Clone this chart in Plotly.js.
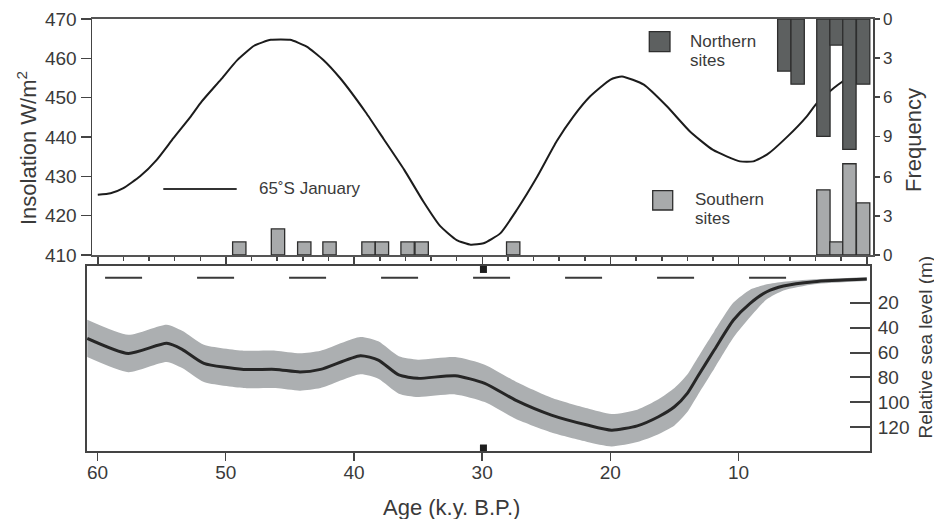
<!DOCTYPE html>
<html>
<head>
<meta charset="utf-8">
<script src="https://cdn.plot.ly/plotly-3.0.1.min.js"></script>
<style>html,body{margin:0;padding:0;background:#fff}#chart{width:934px;height:519px}</style>
</head>
<body>
<div id="chart"></div>
<script>
// ---- Data ----
// 65°S January insolation (W/m2) vs age (k.y. B.P.)
const insolAges = [60.0, 59.0, 58.0, 56.7, 55.4, 54.1, 52.8, 51.9, 50.4, 49.1, 47.8, 46.5, 45.0, 43.7, 42.4, 41.1, 39.1, 37.7, 36.1, 34.6, 33.3, 32.0, 30.9, 29.9, 28.6, 27.3, 25.7, 24.2, 22.9, 21.6, 20.0, 19.1, 17.4, 15.6, 13.8, 12.0, 9.9, 8.85, 7.8, 6.2, 4.7, 3.9, 2.6, 1.9, 0.5];
const insolValues = [425.3, 425.7, 427.0, 430.0, 434.2, 439.7, 445.0, 449.0, 454.6, 459.6, 463.2, 464.7, 464.7, 463.0, 459.6, 455.0, 446.3, 439.5, 431.7, 423.6, 417.4, 413.8, 412.6, 413.0, 415.5, 421.5, 430.0, 438.9, 445.2, 450.3, 454.6, 455.4, 453.3, 447.8, 441.4, 436.7, 433.8, 433.8, 435.5, 440.1, 445.2, 448.6, 452.4, 454.1, 457.5];

// Frequency of dated sites
const northAges = [6.44, 5.40, 3.39, 2.37, 1.36, 0.29];
const northFreq = [4, 5, 9, 2, 10, 5];
const southAges = [48.96, 45.94, 43.89, 41.92, 38.88, 37.83, 35.83, 34.73, 27.59, 3.39, 2.37, 1.36, 0.29];
const southFreq = [1, 2, 1, 1, 1, 1, 1, 1, 1, 5, 1, 7, 4];

// Relative sea level (m below present) and its uncertainty
const seaAges = [60.8, 57.6, 54.6, 53.4, 51.7, 48.6, 46.1, 44.2, 42.6, 39.5, 38.1, 36.5, 35.0, 32.1, 29.8, 27.4, 24.6, 21.8, 19.9, 17.9, 16.25, 15.0, 14.0, 13.2, 11.9, 10.4, 9.1, 7.8, 6.5, 4.1, 0.0];
const seaLevel = [48.6, 60.7, 52.6, 57.4, 68.7, 73.5, 73.5, 75.6, 73.5, 62.5, 66.0, 78.0, 80.7, 78.6, 84.7, 98.2, 110.2, 118.2, 122.3, 118.8, 111.5, 103.5, 92.7, 79.4, 58.0, 33.9, 20.5, 11.2, 6.6, 3.1, 1.0];
const seaErr = [15, 15, 15, 15, 15, 15, 15, 15, 15, 15, 15, 15, 15, 15, 15, 15, 14, 13.5, 13, 13, 14, 15, 15, 15, 15, 14, 11, 6, 3.5, 2, 1.5];

// Present sea level reference (dashed) and 30 ka markers
const presentAges = [59.41, 6.22];
const presentLevel = [0, 0];
const markAges = [29.9, 29.9];
const markLevel = [-6.7, 136.6];

// Tick labels
const insolTicks = [410, 420, 430, 440, 450, 460, 470];
const northTicks = [0, 3, 6, 9];
const southTicks = [0, 3, 6];
const seaTicks = [20, 40, 60, 80, 100, 120];
const ageTicks = [60, 50, 40, 30, 20, 10];

// ---- Styles ----
const FONT = 'Liberation Sans, Arial, sans-serif';
const TXT = '#3a3a3a';
const AX = '#444';
const W = 934, H = 519;
const px = v => v / W;
const py = v => (H - v) / H;

const seaUpper = seaLevel.map((v, i) => v - seaErr[i]);
const seaLower = seaLevel.map((v, i) => v + seaErr[i]);

const traces = [
  {x: insolAges, y: insolValues, xaxis: 'x', yaxis: 'y', type: 'scatter', mode: 'lines',
   line: {color: '#1c1c1c', width: 2, shape: 'spline', smoothing: 0.5}, hoverinfo: 'skip'},
  {x: northAges, y: northFreq, xaxis: 'x', yaxis: 'y2', type: 'bar', width: 1.04,
   marker: {color: '#5d6060', line: {color: '#2e2e2e', width: 1.3}}},
  {x: southAges, y: southFreq, xaxis: 'x', yaxis: 'y3', type: 'bar', width: 1.04,
   marker: {color: '#a8aaab', line: {color: '#2e2e2e', width: 1.3}}},
  {x: seaAges, y: seaUpper, xaxis: 'x2', yaxis: 'y4', type: 'scatter', mode: 'lines',
   line: {color: 'rgba(0,0,0,0)', width: 0, shape: 'spline', smoothing: 0.6}, hoverinfo: 'skip'},
  {x: seaAges, y: seaLower, xaxis: 'x2', yaxis: 'y4', type: 'scatter', mode: 'lines', fill: 'tonexty',
   fillcolor: '#acafb1', line: {color: 'rgba(0,0,0,0)', width: 0, shape: 'spline', smoothing: 0.6}, hoverinfo: 'skip'},
  {x: seaAges, y: seaLevel, xaxis: 'x2', yaxis: 'y4', type: 'scatter', mode: 'lines',
   line: {color: '#262626', width: 3, shape: 'spline', smoothing: 0.6}},
  {x: presentAges, y: presentLevel, xaxis: 'x2', yaxis: 'y4', type: 'scatter', mode: 'lines',
   line: {color: '#3a3a3a', width: 2, dash: '37px,55px'}},
  {x: markAges, y: markLevel, xaxis: 'x2', yaxis: 'y4', type: 'scatter', mode: 'markers',
   marker: {symbol: 'square', size: 7, color: '#1e1e1e'}, cliponaxis: false}
];

const baseAxis = {showgrid: false, zeroline: false, linecolor: AX, tickcolor: AX, automargin: false,
  tickfont: {family: FONT, size: 19, color: TXT}};

const layout = {
  width: W, height: H,
  margin: {l: 0, r: 0, t: 0, b: 0},
  paper_bgcolor: '#fff', plot_bgcolor: 'rgba(0,0,0,0)',
  showlegend: false,
  font: {family: FONT, color: TXT},
  xaxis: Object.assign({}, baseAxis, {
    domain: [px(92), px(873)], range: [60.45, -0.48], anchor: 'y',
    showline: true, linewidth: 2, mirror: true, linecolor: '#555',
    ticks: 'outside', ticklen: 8, tickwidth: 1.5, tick0: 0, dtick: 10, showticklabels: false,
    minor: {ticks: 'outside', ticklen: 4, tickwidth: 1.5, dtick: 2, tick0: 0, tickcolor: AX, showgrid: false}
  }),
  yaxis: Object.assign({}, baseAxis, {
    domain: [py(255), py(19)], range: [410, 470], anchor: 'x',
    showline: true, linewidth: 1.5, ticks: 'outside', ticklen: 10, tickwidth: 1.5,
    tickvals: insolTicks, tickfont: {family: FONT, size: 19, color: TXT}
  }),
  yaxis2: Object.assign({}, baseAxis, {
    overlaying: 'y', side: 'right', anchor: 'x', range: [18.1, 0],
    showline: true, linewidth: 1.5, ticks: 'outside', ticklen: 5, tickwidth: 1.5,
    tickvals: northTicks, tickfont: {family: FONT, size: 17, color: TXT}
  }),
  yaxis3: Object.assign({}, baseAxis, {
    overlaying: 'y', side: 'right', anchor: 'x', range: [0, 18.1],
    showline: true, linewidth: 1.5, ticks: 'outside', ticklen: 5, tickwidth: 1.5,
    tickvals: southTicks, tickfont: {family: FONT, size: 17, color: TXT}
  }),
  xaxis2: Object.assign({}, baseAxis, {
    domain: [px(87), px(870)], range: [60.82, -0.25], anchor: 'y4',
    showline: true, linewidth: 2, mirror: true,
    ticks: 'outside', ticklen: 8, tickwidth: 1.5, tickvals: ageTicks, ticklabelstandoff: -5
  }),
  yaxis4: Object.assign({}, baseAxis, {
    domain: [py(451), py(266)], range: [139.0, -9.47], anchor: 'x2', side: 'right',
    showline: true, linewidth: 2, mirror: true,
    ticks: 'inside', ticklen: 20, tickwidth: 2, tickvals: seaTicks, ticklabelstandoff: 2
  }),
  shapes: [
    {type: 'line', xref: 'paper', yref: 'paper', x0: px(163.3), x1: px(236.7), y0: py(189), y1: py(189),
     line: {color: '#333', width: 2}},
    {type: 'rect', xref: 'paper', yref: 'paper', x0: px(649.3), x1: px(670), y0: py(51.7), y1: py(31.7),
     fillcolor: '#5d6060', line: {color: '#2e2e2e', width: 1.3}},
    {type: 'rect', xref: 'paper', yref: 'paper', x0: px(652.7), x1: px(672.7), y0: py(210), y1: py(190.7),
     fillcolor: '#a8aaab', line: {color: '#2e2e2e', width: 1.3}}
  ],
  annotations: [
    {text: 'Insolation W/m<sup>2</sup>', xref: 'paper', yref: 'paper', x: px(27), y: py(148), textangle: -90,
     showarrow: false, xanchor: 'center', yanchor: 'middle', font: {family: FONT, size: 22, color: TXT}},
    {text: 'Frequency', xref: 'paper', yref: 'paper', x: px(913), y: py(140), textangle: -90,
     showarrow: false, xanchor: 'center', yanchor: 'middle', font: {family: FONT, size: 22, color: TXT}},
    {text: 'Relative sea level (m)', xref: 'paper', yref: 'paper', x: px(925), y: py(347.5), textangle: -90,
     showarrow: false, xanchor: 'center', yanchor: 'middle', font: {family: FONT, size: 19, color: TXT}},
    {text: 'Age (k.y. B.P.)', xref: 'paper', yref: 'paper', x: px(451), y: py(507),
     showarrow: false, xanchor: 'center', yanchor: 'middle', font: {family: FONT, size: 22, color: TXT}},
    {text: '65˚S January', xref: 'paper', yref: 'paper', x: px(256.7), y: py(188.5),
     showarrow: false, xanchor: 'left', yanchor: 'middle', font: {family: FONT, size: 17, color: TXT}},
    {text: 'Northern', xref: 'paper', yref: 'paper', x: px(688.3), y: py(41.7),
     showarrow: false, xanchor: 'left', yanchor: 'middle', font: {family: FONT, size: 17, color: TXT}},
    {text: 'sites', xref: 'paper', yref: 'paper', x: px(688.3), y: py(60),
     showarrow: false, xanchor: 'left', yanchor: 'middle', font: {family: FONT, size: 17, color: TXT}},
    {text: 'Southern', xref: 'paper', yref: 'paper', x: px(692.7), y: py(200),
     showarrow: false, xanchor: 'left', yanchor: 'middle', font: {family: FONT, size: 17, color: TXT}},
    {text: 'sites', xref: 'paper', yref: 'paper', x: px(692.7), y: py(218.3),
     showarrow: false, xanchor: 'left', yanchor: 'middle', font: {family: FONT, size: 17, color: TXT}}
  ]
};

Plotly.newPlot('chart', traces, layout, {staticPlot: true, displayModeBar: false});
</script>
</body>
</html>
